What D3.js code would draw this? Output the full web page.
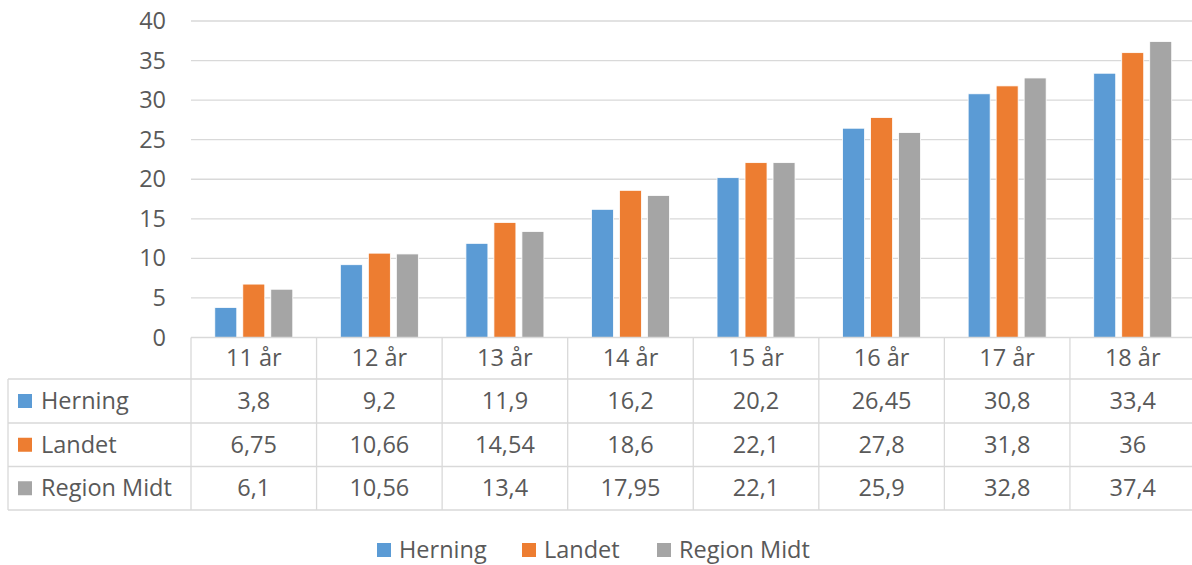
<!DOCTYPE html>
<html>
<head>
<meta charset="utf-8">
<script src="https://cdn.jsdelivr.net/npm/d3@7"></script>
<style>
  html, body { margin: 0; padding: 0; background: #fff; }
  svg { display: block; }
  text { font-family: "Open Sans", "Noto Sans", sans-serif; fill: #595959; }
</style>
</head>
<body>
<svg id="chart" width="1192" height="565"></svg>
<script>
// Age groups along the x axis
const categories = ["11 år", "12 år", "13 år", "14 år", "15 år", "16 år", "17 år", "18 år"];
// Series names and colours
const seriesNames = ["Herning", "Landet", "Region Midt"];
const seriesColors = ["#5b9bd5", "#ed7d31", "#a5a5a5"];
// Values per series, one per age group
const herning = [3.8, 9.2, 11.9, 16.2, 20.2, 26.45, 30.8, 33.4];
const landet = [6.75, 10.66, 14.54, 18.6, 22.1, 27.8, 31.8, 36];
const regionMidt = [6.1, 10.56, 13.4, 17.95, 22.1, 25.9, 32.8, 37.4];
// Value axis ticks
const yTicks = [0, 5, 10, 15, 20, 25, 30, 35, 40];

const seriesValues = [herning, landet, regionMidt];
const rows = categories.map((c, i) => ({
  cat: c,
  vals: seriesNames.map((s, j) => ({ key: s, value: seriesValues[j][i], color: seriesColors[j] }))
}));

const svg = d3.select("#chart");
const fmt = v => String(v).replace(".", ",");
const FS = 23.5;

const plotLeft = 191, plotRight = 1195.5;
const yTop = 21, yBottom = 337.5;

const x0 = d3.scaleBand().domain(categories).range([plotLeft, plotRight]);
const x1 = d3.scaleBand().domain(seriesNames).range([0, 84])
  .paddingInner(6 / 28).paddingOuter(3 / 28);
const y = d3.scaleLinear().domain([0, 40]).range([yBottom, yTop]);

// Gridlines
svg.append("g").selectAll("line").data(yTicks.filter(t => t > 0)).join("line")
  .attr("x1", plotLeft).attr("x2", 1192)
  .attr("y1", d => y(d)).attr("y2", d => y(d))
  .attr("stroke", "#d9d9d9").attr("stroke-width", 1.3);

// Value axis labels
const yAxis = d3.axisLeft(y).tickValues(yTicks).tickSize(0).tickPadding(0).tickFormat(d => d);
const ya = svg.append("g").attr("transform", "translate(166,0)").call(yAxis);
ya.select(".domain").remove();
ya.selectAll("text").attr("font-size", FS).attr("fill", "#595959")
  .style("font-family", "'Open Sans', sans-serif");

// Bars
const offset = (x0.bandwidth() - 84) / 2;
const groups = svg.append("g").selectAll("g").data(rows).join("g")
  .attr("transform", d => `translate(${x0(d.cat) + offset},0)`);
groups.selectAll("rect").data(d => d.vals).join("rect")
  .attr("x", d => x1(d.key))
  .attr("width", x1.bandwidth())
  .attr("y", d => y(d.value))
  .attr("height", d => y(0) - y(d.value))
  .attr("fill", d => d.color)
  .attr("stroke", "#ffffff").attr("stroke-width", 0.8);

// Data table
const tableLeft = 8;
const rowEdges = [yBottom, 379, 423, 466.5, 510];
const grid = svg.append("g").attr("stroke", "#d9d9d9").attr("stroke-width", 1.3);
// horizontal rules
grid.append("line").attr("x1", plotLeft).attr("x2", 1192).attr("y1", yBottom).attr("y2", yBottom);
rowEdges.slice(1).forEach(yy => {
  grid.append("line").attr("x1", tableLeft).attr("x2", 1192).attr("y1", yy).attr("y2", yy);
});
// vertical rules
categories.forEach(c => {
  grid.append("line").attr("x1", x0(c)).attr("x2", x0(c)).attr("y1", yBottom).attr("y2", 510);
});
grid.append("line").attr("x1", tableLeft).attr("x2", tableLeft).attr("y1", 379).attr("y2", 510);

// Header row: category labels
svg.append("g").selectAll("text").data(categories).join("text")
  .attr("x", d => x0(d) + x0.bandwidth() / 2)
  .attr("y", (rowEdges[0] + rowEdges[1]) / 2)
  .attr("dy", "0.35em")
  .attr("text-anchor", "middle")
  .attr("font-size", FS)
  .text(d => d);

// Series rows
seriesNames.forEach((s, j) => {
  const cy = (rowEdges[j + 1] + rowEdges[j + 2]) / 2;
  svg.append("rect").attr("x", 18).attr("y", cy - 7).attr("width", 14).attr("height", 14)
    .attr("fill", seriesColors[j]);
  svg.append("text").attr("x", 41).attr("y", cy).attr("dy", "0.35em")
    .attr("font-size", FS).text(s);
  svg.append("g").selectAll("text").data(categories).join("text")
    .attr("x", d => x0(d) + x0.bandwidth() / 2)
    .attr("y", cy).attr("dy", "0.35em")
    .attr("text-anchor", "middle")
    .attr("font-size", FS)
    .text((d, i) => fmt(seriesValues[j][i]));
});

// Legend
const legendItems = [
  { name: "Herning", x: 377 },
  { name: "Landet", x: 522 },
  { name: "Region Midt", x: 657 }
];
const lg = svg.append("g").selectAll("g").data(legendItems).join("g")
  .attr("transform", d => `translate(${d.x},550)`);
lg.append("rect").attr("x", 0).attr("y", -7).attr("width", 14).attr("height", 14)
  .attr("fill", (d, i) => seriesColors[i]);
lg.append("text").attr("x", 22).attr("dy", "0.35em").attr("font-size", FS).text(d => d.name);
</script>
</body>
</html>
